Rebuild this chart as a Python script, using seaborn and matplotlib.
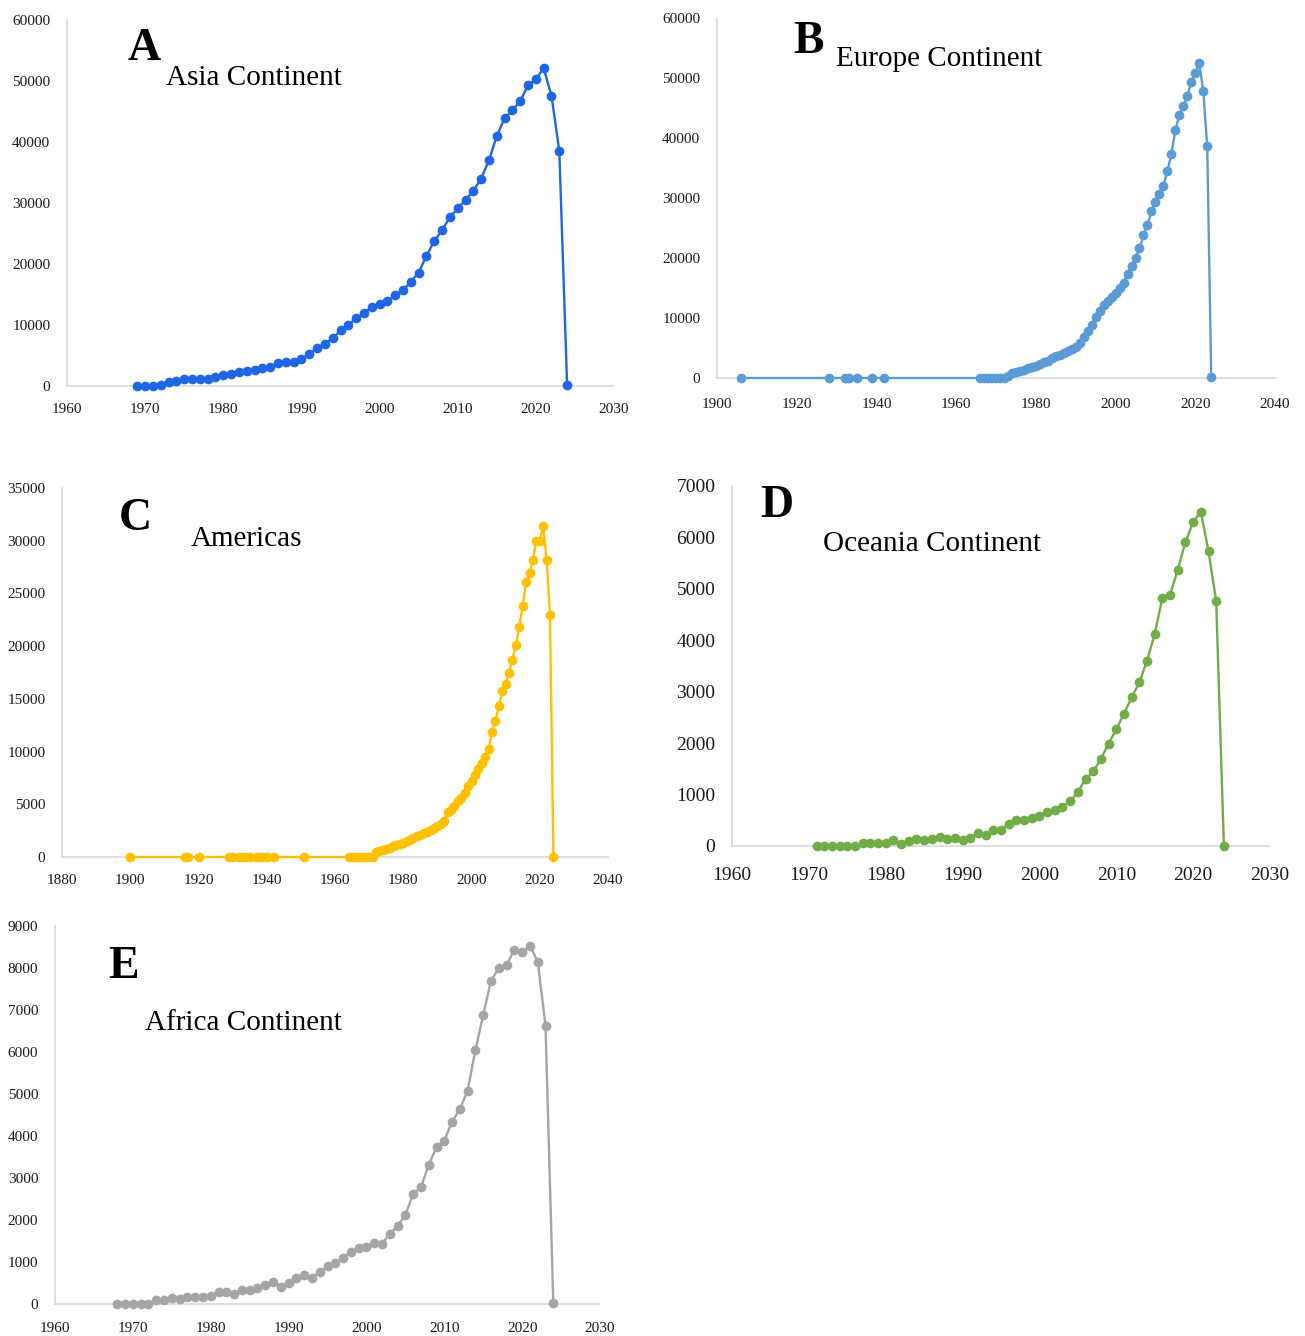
import numpy as np
import pandas as pd
import matplotlib
matplotlib.use("Agg")
import matplotlib.pyplot as plt
import seaborn as sns

# ---- data ----
asia_years = list(range(1969, 2025))
asia_values = [0, 0, 0, 100, 700, 900, 1100, 1100, 1200, 1200,
               1500, 1750, 1950, 2250, 2450, 2600, 2900, 3150, 3700, 3900,
               3900, 4400, 5250, 6200, 6900, 7800, 9100, 10000, 11100, 11900,
               13000, 13400, 13900, 14900, 15700, 17100, 18600, 21300, 23800, 25500,
               27700, 29100, 30500, 32000, 34000, 37000, 41000, 43900, 45200, 46700,
               49300, 50300, 52100, 47600, 38500, 200]

europe_years = [1906, 1928, 1932, 1933, 1935, 1939, 1942] + list(range(1966, 2025))
europe_values = [0, 0, 0, 0, 0, 0, 0,
                 0, 0, 0, 0, 0, 0, 0, 400, 800, 1000,
                 1200, 1400, 1600, 1800, 2000, 2300, 2600, 2900, 3300, 3600,
                 3900, 4200, 4500, 4800, 5200, 5900, 6800, 7800, 8900, 10200,
                 11200, 12100, 12900, 13500, 14200, 15000, 15900, 17400, 18700, 20000,
                 21600, 23800, 25500, 27800, 29300, 30700, 32000, 34500, 37300, 41300,
                 43800, 45300, 47000, 49300, 50800, 52500, 47800, 38600, 100]

americas_years = [1900, 1916, 1917, 1920, 1929, 1930, 1932, 1933, 1934, 1935,
                  1937, 1938, 1939, 1940, 1942, 1951] + list(range(1964, 2025))
americas_values = [0, 0, 0, 0, 0, 0, 0, 0, 0, 0,
                   0, 0, 0, 0, 0, 0,
                   0, 0, 0, 0, 0, 0, 0, 0,                                   # 1964-1971
                   500, 600, 700, 800, 900, 1000, 1100, 1200, 1350, 1500,    # 1972-1981
                   1650, 1800, 1950, 2100, 2250, 2400, 2600, 2750, 2900, 3100,  # 1982-1991
                   3400, 4300, 4500, 4800, 5300, 5600, 6100, 6700, 7200, 7800,  # 1992-2001
                   8300, 8900, 9500, 10200, 11900, 12900, 14300, 15700, 16400, 17500,  # 2002-2011
                   18700, 20100, 21800, 23800, 26100, 26900, 28200, 30000, 30000, 31400,  # 2012-2021
                   28200, 23000, 0]                                          # 2022-2024

oceania_years = list(range(1971, 2025))
oceania_values = [0, 0, 0, 0, 0, 0, 50, 50, 50, 60,
                  120, 30, 100, 140, 120, 130, 170, 130, 160, 120,
                  160, 250, 210, 310, 320, 420, 500, 500, 550, 590,
                  660, 700, 760, 870, 1050, 1300, 1450, 1690, 1990, 2270,
                  2570, 2890, 3180, 3600, 4120, 4830, 4890, 5370, 5910, 6300,
                  6500, 5730, 4760, 0]

africa_years = list(range(1968, 2025))
africa_values = [0, 0, 0, 0, 0, 95, 95, 135, 120, 160,
                 160, 160, 200, 290, 290, 250, 330, 330, 370, 450,
                 530, 410, 490, 610, 690, 610, 770, 900, 980, 1090,
                 1250, 1330, 1350, 1460, 1430, 1670, 1860, 2120, 2620, 2780,
                 3310, 3730, 3890, 4340, 4640, 5080, 6050, 6880, 7700, 7990,
                 8070, 8440, 8370, 8530, 8150, 6630, 30]

W, H = 1305, 1336

sns.set_style("white")
plt.rcParams["font.family"] = ["Liberation Serif", "DejaVu Serif"]

fig = plt.figure(figsize=(W / 100, H / 100), dpi=100)


def px_axes(left, right, top, bottom):
    return fig.add_axes([left / W, 1 - bottom / H, (right - left) / W, (bottom - top) / H])


panels = [
    # years, values, colour, (l, r, t, b), xlim, xstep, ymax, ystep, tick size, x pad
    (asia_years, asia_values, "#1f66e6", (67, 614, 20, 386), (1960, 2030), 10, 60000, 10000, 11, 12.5),
    (europe_years, europe_values, "#5b9bd5", (717, 1275, 18, 378), (1900, 2040), 20, 60000, 10000, 11, 14.5),
    (americas_years, americas_values, "#ffc000", (62, 608, 488, 857), (1880, 2040), 20, 35000, 5000, 11, 12.5),
    (oceania_years, oceania_values, "#70ad47", (732, 1270, 486, 846), (1960, 2030), 10, 7000, 1000, 14, 15),
    (africa_years, africa_values, "#a5a5a5", (55, 600, 926, 1304), (1960, 2030), 10, 9000, 1000, 11, 13),
]

for years, values, color, box, xlim, xstep, ymax, ystep, fs, xpad in panels:
    ax = px_axes(*box)
    df = pd.DataFrame({"year": years, "count": values})
    sns.lineplot(data=df, x="year", y="count", ax=ax, color=color, lw=1.7,
                 marker="o", markersize=7, mec=color, mew=0, mfc=color,
                 clip_on=False, zorder=3)
    ax.set_xlim(*xlim)
    ax.set_ylim(0, ymax)
    ax.set_xticks(np.arange(xlim[0], xlim[1] + 1, xstep))
    ax.set_yticks(np.arange(0, ymax + 1, ystep))
    ax.set_xlabel("")
    ax.set_ylabel("")
    for s in ["top", "right"]:
        ax.spines[s].set_visible(False)
    for s in ["left", "bottom"]:
        ax.spines[s].set_color("#d9d9d9")
        ax.spines[s].set_linewidth(1.2)
        ax.spines[s].set_zorder(1)
    ax.tick_params(axis="both", length=0, labelsize=fs, colors="#1a1a1a")
    ax.tick_params(axis="y", pad=12)
    ax.tick_params(axis="x", pad=xpad)
    ax.grid(False)


def label(x, y, s, **kw):
    fig.text(x / W, 1 - y / H, s, va="baseline", color="black", **kw)


big = dict(fontsize=33, fontweight="bold")
sub = dict(fontsize=21)
label(128, 60, "A", **big)
label(166, 85, "Asia Continent", **sub)
label(793, 53, "B", **big)
label(836, 66, "Europe Continent", **sub)
label(119, 530, "C", **big)
label(191, 546, "Americas", **sub)
label(760, 517, "D", **big)
label(823, 551, "Oceania Continent", **sub)
label(108, 978, "E", **big)
label(145, 1030, "Africa Continent", **sub)

fig.savefig("out.png", dpi=100, facecolor="white")
